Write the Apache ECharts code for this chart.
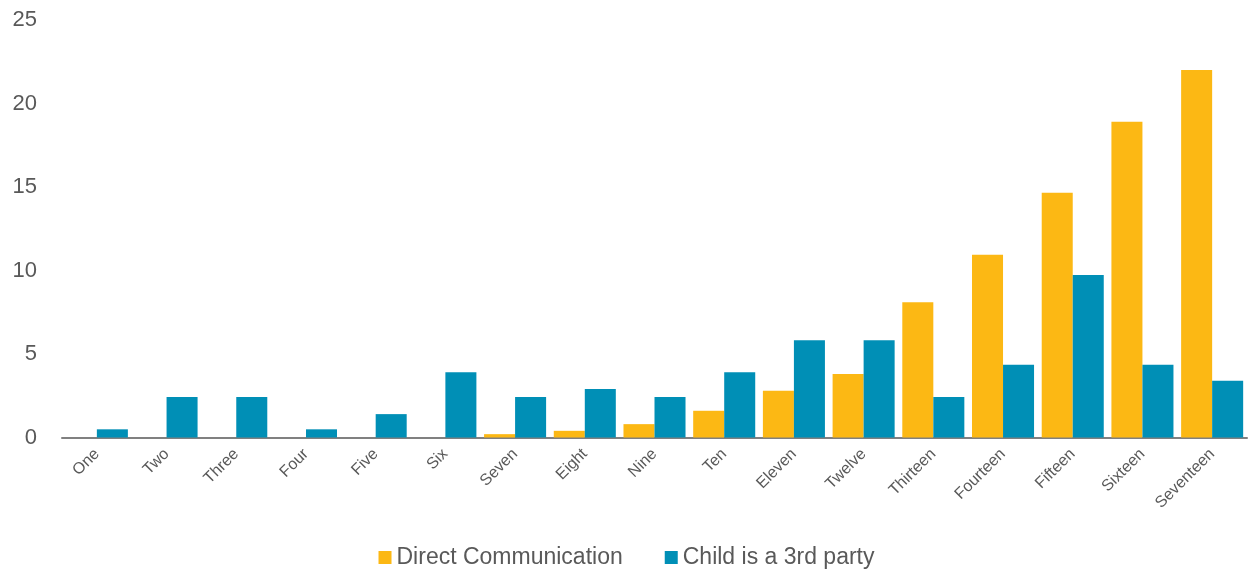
<!DOCTYPE html>
<html><head><meta charset="utf-8">
<script src="https://cdn.jsdelivr.net/npm/echarts@6/dist/echarts.min.js"></script>
<style>html,body{margin:0;padding:0;background:#fff}#c{width:1253px;height:576px}</style>
</head><body><div id="c"></div>
<script>
const categories = ["One","Two","Three","Four","Five","Six","Seven","Eight","Nine","Ten","Eleven","Twelve","Thirteen","Fourteen","Fifteen","Sixteen","Seventeen"];
const directCommunication = [0,0,0,0,0,0,0.2,0.4,0.8,1.6,2.8,3.8,8.1,10.95,14.65,18.9,22.0];
const childThirdParty = [0.49,2.43,2.43,0.49,1.4,3.9,2.43,2.91,2.43,3.9,5.83,5.83,2.43,4.35,9.73,4.35,3.4];
const seriesNames = ["Direct Communication","Child is a 3rd party"];

const chart = echarts.init(document.getElementById('c'));
chart.setOption({
  animation:false,
  textStyle:{fontFamily:'Liberation Sans, Arial, sans-serif'},
  grid:{left:62,right:6,top:20,bottom:138.5,containLabel:false},
  legend:{
    bottom:2,left:'center',itemWidth:13,itemHeight:13,itemGap:42,icon:'rect',
    textStyle:{fontSize:23,color:'#595959',padding:[0,0,0,0]},
    data:seriesNames
  },
  xAxis:{
    type:'category',data:categories,
    axisLine:{lineStyle:{color:'#808080',width:2}},
    axisTick:{show:false},
    axisLabel:{rotate:45,fontSize:16,color:'#595959',interval:0,margin:14}
  },
  yAxis:{
    type:'value',min:0,max:25,interval:5,
    axisLine:{show:false},axisTick:{show:false},splitLine:{show:false},
    axisLabel:{fontSize:22,color:'#595959',margin:25}
  },
  series:[
    {name:seriesNames[0],type:'bar',data:directCommunication,barGap:'0%',barCategoryGap:'11%',
      itemStyle:{color:'#FCB814'}},
    {name:seriesNames[1],type:'bar',data:childThirdParty,barGap:'0%',barCategoryGap:'11%',
      itemStyle:{color:'#008FB6'}}
  ]
});
</script></body></html>
